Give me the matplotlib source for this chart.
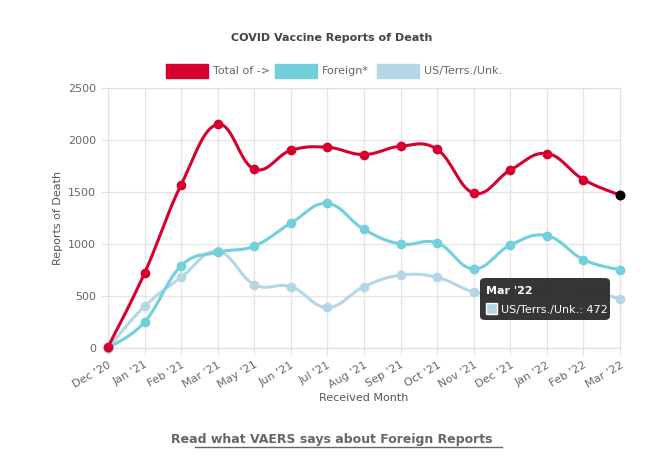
import numpy as np
import matplotlib.pyplot as plt
from matplotlib.patches import FancyBboxPatch

months = ["Dec '20", "Jan '21", "Feb '21", "Mar '21", "May '21", "Jun '21", "Jul '21",
          "Aug '21", "Sep '21", "Oct '21", "Nov '21", "Dec '21", "Jan '22", "Feb '22", "Mar '22"]
total = [10, 720, 1570, 2150, 1720, 1900, 1930, 1860, 1940, 1910, 1490, 1710, 1870, 1620, 1470]
foreign = [0, 250, 790, 920, 980, 1200, 1390, 1140, 1000, 1010, 760, 990, 1080, 850, 750]
us_terrs = [0, 400, 680, 930, 610, 590, 390, 590, 700, 680, 540, 510, 570, 560, 472]

red = '#d6002e'
teal = '#72cfdc'
light = '#b4d6e6'


def smooth(y, t=0.4, n=20):
    # chart.js style bezier with tension
    y = np.asarray(y, float)
    x = np.arange(len(y), dtype=float)
    xs, ys = [], []
    for i in range(len(y) - 1):
        p0 = np.array([x[max(i - 1, 0)], y[max(i - 1, 0)]])
        p1 = np.array([x[i], y[i]])
        p2 = np.array([x[i + 1], y[i + 1]])
        p3 = np.array([x[min(i + 2, len(y) - 1)], y[min(i + 2, len(y) - 1)]])
        c1 = p1 + (p2 - p0) * t / 2
        c2 = p2 - (p3 - p1) * t / 2
        s = np.linspace(0, 1, n)[:, None]
        b = (1 - s) ** 3 * p1 + 3 * (1 - s) ** 2 * s * c1 + 3 * (1 - s) * s ** 2 * c2 + s ** 3 * p2
        xs.extend(b[:, 0]); ys.extend(b[:, 1])
    return xs, ys


fig = plt.figure(figsize=(6.64, 4.75), dpi=100)
ax = fig.add_axes([108 / 664, 1 - 348 / 475, 512 / 664, 260 / 475])
x = np.arange(len(months))
for data, col in [(us_terrs, light), (foreign, teal), (total, red)]:
    sx, sy = smooth(data)
    ax.plot(sx, sy, color=col, lw=2.2, zorder=3, clip_on=False)
    ax.plot(x, data, 'o', color=col, ms=6, zorder=4, clip_on=False)
ax.plot(x[-1], total[-1], 'o', color='black', ms=6, zorder=5, clip_on=False)

ax.set_xlim(0, len(months) - 1)
ax.set_ylim(0, 2500)
ax.set_yticks(range(0, 2501, 500))
ax.set_xticks(x)
ax.set_xticklabels(months, rotation=30, ha='right', rotation_mode='anchor', fontsize=8, color='#666666')
ax.tick_params(axis='y', labelsize=8, colors='#666666')
ax.tick_params(length=5, color='#e0e0e0')
ax.grid(color='#e6e6e6', lw=1)
for s in ax.spines.values():
    s.set_color('#e0e0e0')
ax.set_ylabel('Reports of Death', fontsize=8, color='#555555')
ax.set_xlabel('Received Month', fontsize=8, color='#555555', labelpad=2)

fig.text(0.5, 1 - 38 / 475, 'COVID Vaccine Reports of Death', ha='center', va='center',
         fontsize=8, fontweight='bold', color='#444444')
# legend
for lx, col, lab in [(166, red, 'Total of ->'), (275, teal, 'Foreign*'), (377, light, 'US/Terrs./Unk.')]:
    fig.patches.append(plt.Rectangle((lx / 664, 1 - 78 / 475), 42 / 664, 14 / 475,
                                     transform=fig.transFigure, color=col))
    fig.text((lx + 47) / 664, 1 - 71 / 475, lab, va='center', fontsize=8, color='#666666')

# tooltip
tip = FancyBboxPatch((480 / 664, 1 - 320 / 475), 130 / 664, 42 / 475, transform=fig.transFigure,
                     boxstyle='round,pad=0,rounding_size=0.008', fc='#2b2b2b', ec='none', alpha=0.95, zorder=10)
fig.patches.append(tip)
fig.text(486 / 664, 1 - 294 / 475, "Mar '22", fontsize=8, fontweight='bold', color='white', zorder=11)
fig.patches.append(plt.Rectangle((486 / 664, 1 - 314 / 475), 11 / 664, 11 / 475, transform=fig.transFigure,
                                 fc=light, ec='white', lw=1, zorder=11))
fig.text(501 / 664, 1 - 313 / 475, 'US/Terrs./Unk.: 472', fontsize=8, color='white', zorder=11)

fig.text(0.5, 1 - 440 / 475, 'Read what VAERS says about Foreign Reports', ha='center', va='center',
         fontsize=9, fontweight='bold', color='#666666')
fig.add_artist(plt.Line2D([195 / 664, 502 / 664], [1 - 447 / 475] * 2, color='#666666', lw=1))

fig.savefig('out.png', dpi=100)
